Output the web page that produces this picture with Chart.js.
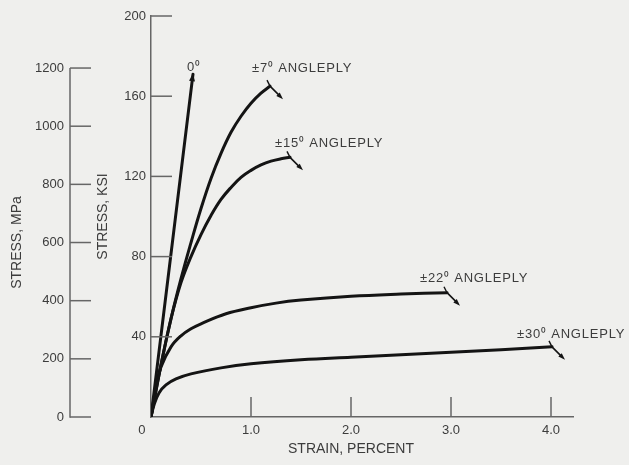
<!DOCTYPE html>
<html>
<head>
<meta charset="utf-8">
<script src="https://cdn.jsdelivr.net/npm/chart.js@4.4.1/dist/chart.umd.min.js"></script>
<style>
  html, body { margin: 0; padding: 0; background: #efefed; }
  #wrap { width: 629px; height: 465px; position: relative; }
  canvas { display: block; }
</style>
</head>
<body>
<div id="wrap"><canvas id="c" width="629" height="465"></canvas></div>
<script>
// ---------- data (strain in percent, stress in ksi) ----------
const seriesNames = ['0⁰', '±7⁰ ANGLEPLY', '±15⁰ ANGLEPLY', '±22⁰ ANGLEPLY', '±30⁰ ANGLEPLY'];

const strain0  = [0, 0.42];
const stress0  = [0, 171];

const strain7  = [0, 0.10, 0.20, 0.30, 0.40, 0.50, 0.60, 0.70, 0.80, 0.90, 1.00, 1.10, 1.19];
const stress7  = [0, 26, 49, 69, 87, 104, 119, 131.5, 142, 150, 156.5, 161.5, 165];

const strain15 = [0, 0.10, 0.20, 0.30, 0.40, 0.50, 0.60, 0.70, 0.80, 0.90, 1.00, 1.10, 1.20, 1.30, 1.39];
const stress15 = [0, 26, 49, 67, 80, 91, 100.5, 108.5, 114.5, 119.5, 123, 125.7, 127.6, 128.8, 129.5];

const strain22 = [0, 0.05, 0.10, 0.20, 0.30, 0.40, 0.50, 0.75, 1.00, 1.25, 1.50, 2.00, 2.50, 2.96];
const stress22 = [0, 15, 25, 35, 40.5, 44, 46.5, 51.5, 54.5, 56.8, 58.3, 60.2, 61.3, 62];

const strain30 = [0, 0.03, 0.08, 0.15, 0.25, 0.40, 0.70, 1.00, 1.50, 2.00, 2.50, 3.00, 3.50, 4.01];
const stress30 = [0, 6, 12, 16, 19, 21.5, 24.5, 26.5, 28.5, 29.8, 31, 32.3, 33.6, 35];

const xTicks   = [0, 1, 2, 3, 4];
const ksiTicks = [40, 80, 120, 160, 200];
const mpaTicks = [0, 200, 400, 600, 800, 1000, 1200];

const xTitle   = 'STRAIN, PERCENT';
const ksiTitle = 'STRESS, KSI';
const mpaTitle = 'STRESS, MPa';

const KSI_TO_MPA = 6.894757;

// ---------- styling ----------
const FONT = '"Liberation Sans", Arial, sans-serif';
const textColor = '#3c3c3c';
const axisColor = '#666666';
const curveColor = '#141414';
const bgColor = '#efefed';

// label anchors (data units: strain %, ksi) for the curve annotations
const labelPlacement = [
  { x: 0.36, y: 172.5 },
  { x: 1.01, y: 172 },
  { x: 1.24, y: 134.5 },
  { x: 2.69, y: 67.5 },
  { x: 3.66, y: 39.5 }
];

const pts = (xs, ys) => xs.map((v, i) => ({ x: v, y: ys[i] }));

const datasets = [
  pts(strain0, stress0),
  pts(strain7, stress7),
  pts(strain15, stress15),
  pts(strain22, stress22),
  pts(strain30, stress30)
].map((d, i) => ({
  label: seriesNames[i],
  data: d,
  borderColor: curveColor,
  borderWidth: 3,
  pointRadius: 0,
  fill: false,
  tension: 0.4,
  borderCapStyle: 'round',
  borderJoinStyle: 'round'
}));

function line(ctx, x1, y1, x2, y2) {
  ctx.beginPath(); ctx.moveTo(x1, y1); ctx.lineTo(x2, y2); ctx.stroke();
}

function arrowHead(ctx, tipX, tipY, fromX, fromY, len, half) {
  const a = Math.atan2(tipY - fromY, tipX - fromX);
  ctx.beginPath();
  ctx.moveTo(tipX, tipY);
  ctx.lineTo(tipX - len * Math.cos(a) + half * Math.sin(a), tipY - len * Math.sin(a) - half * Math.cos(a));
  ctx.lineTo(tipX - len * Math.cos(a) - half * Math.sin(a), tipY - len * Math.sin(a) + half * Math.cos(a));
  ctx.closePath();
  ctx.fill();
}

const decor = {
  id: 'decor',
  beforeDraw(chart) {
    const ctx = chart.ctx;
    ctx.save();
    ctx.fillStyle = bgColor;
    ctx.fillRect(0, 0, chart.width, chart.height);
    ctx.restore();
  },
  afterDraw(chart) {
    const ctx = chart.ctx;
    const sx = chart.scales.x, sy = chart.scales.y, sm = chart.scales.mpa;
    const area = chart.chartArea;
    ctx.save();
    ctx.strokeStyle = axisColor;
    ctx.lineWidth = 1.5;
    // inward x ticks
    xTicks.filter(v => v > 0).forEach(v => {
      const px = sx.getPixelForValue(v);
      line(ctx, px, area.bottom, px, area.bottom - 20);
    });
    // inward ksi ticks
    ksiTicks.forEach(v => {
      const py = sy.getPixelForValue(v);
      line(ctx, area.left, py, area.left + 21, py);
    });
    // MPa axis line and ticks
    const mx = sm.right;
    line(ctx, mx, sm.getPixelForValue(mpaTicks[0]) + 0.75, mx, sm.getPixelForValue(mpaTicks[mpaTicks.length - 1]));
    mpaTicks.forEach(v => {
      const py = sm.getPixelForValue(v);
      line(ctx, mx, py, mx + 21, py);
    });

    // titles drawn centred on their axis lines
    ctx.fillStyle = textColor;
    ctx.font = '14px ' + FONT;
    ctx.textAlign = 'center';
    ctx.textBaseline = 'middle';
    ctx.fillText(xTitle, sx.getPixelForValue((xTicks[0] + xTicks[xTicks.length - 1]) / 2), 449);
    ctx.save();
    const my = (sm.getPixelForValue(mpaTicks[0]) + sm.getPixelForValue(mpaTicks[mpaTicks.length - 1])) / 2;
    ctx.translate(17, my);
    ctx.rotate(-Math.PI / 2);
    ctx.fillText(mpaTitle, 0, 0);
    ctx.restore();

    // failure markers at curve ends
    ctx.fillStyle = curveColor;
    ctx.strokeStyle = curveColor;
    chart.data.datasets.forEach((ds, i) => {
      const last = ds.data[ds.data.length - 1];
      const ex = sx.getPixelForValue(last.x), ey = sy.getPixelForValue(last.y);
      if (i === 0) {
        const prev = ds.data[ds.data.length - 2];
        const fx = sx.getPixelForValue(prev.x), fy = sy.getPixelForValue(prev.y);
        ctx.lineWidth = 1;
        arrowHead(ctx, ex, ey - 1, fx, fy, 8, 3);
      } else {
        ctx.lineWidth = 1.4;
        line(ctx, ex, ey, ex - 3, ey - 6);
        ctx.lineWidth = 1.6;
        line(ctx, ex, ey, ex + 9, ey + 9);
        arrowHead(ctx, ex + 13, ey + 13, ex, ey, 7, 2.4);
      }
    });

    // curve labels
    ctx.fillStyle = textColor;
    ctx.font = '13px ' + FONT;
    ctx.textAlign = 'left';
    ctx.textBaseline = 'alphabetic';
    try { ctx.letterSpacing = '0.8px'; } catch (e) {}
    labelPlacement.forEach((p, i) => {
      ctx.fillText(seriesNames[i], sx.getPixelForValue(p.x), sy.getPixelForValue(p.y));
    });
    ctx.restore();
  }
};

new Chart(document.getElementById('c'), {
  type: 'line',
  data: { datasets },
  plugins: [decor],
  options: {
    responsive: false,
    animation: false,
    layout: { padding: { left: 0, right: 56, top: 16, bottom: 0 } },
    plugins: { legend: { display: false }, tooltip: { enabled: false } },
    scales: {
      x: {
        type: 'linear', position: 'bottom', min: 0, max: 4.22,
        afterBuildTicks: s => { s.ticks = xTicks.map(v => ({ value: v })); },
        afterFit: s => { s.height = 48; },
        grid: { display: false, drawTicks: false },
        border: { display: true, color: axisColor, width: 1.5 },
        ticks: {
          padding: 6, color: textColor, font: { family: FONT, size: 13 },
          maxRotation: 0, autoSkip: false,
          callback: v => v === 0 ? '0\u00a0\u00a0\u00a0\u00a0\u00a0' : Number(v).toFixed(1)
        }
      },
      y: {
        type: 'linear', position: 'left', min: 0, max: 200, weight: 0,
        afterBuildTicks: s => { s.ticks = ksiTicks.map(v => ({ value: v })); },
        afterFit: s => { s.width = 81; },
        grid: { display: false, drawTicks: false },
        border: { display: true, color: axisColor, width: 1.5 },
        ticks: { padding: 5, color: textColor, font: { family: FONT, size: 13 }, callback: v => String(v) },
        title: {
          display: true, text: ksiTitle, color: textColor,
          font: { family: FONT, size: 14 }, padding: { top: 25, bottom: 0 }
        }
      },
      mpa: {
        type: 'linear', position: 'left', min: 0, max: 200 * KSI_TO_MPA, weight: 10,
        afterBuildTicks: s => { s.ticks = mpaTicks.map(v => ({ value: v })); },
        afterFit: s => { s.width = 70; },
        grid: { display: false, drawTicks: false },
        border: { display: false },
        ticks: { padding: 6, color: textColor, font: { family: FONT, size: 13 }, callback: v => String(v) }
      }
    }
  }
});
</script>
</body>
</html>
